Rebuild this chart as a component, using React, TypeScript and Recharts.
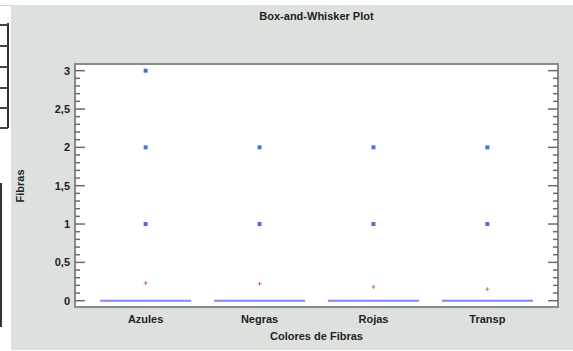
import React from "react";
import {
  ComposedChart,
  XAxis,
  YAxis,
  Scatter,
  ReferenceLine,
  ReferenceArea,
} from "recharts";

// Fibre colour groups
const categories = ["Azules", "Negras", "Rojas", "Transp"];
// Box statistics per group (all quartiles collapse to zero)
const medians = [0, 0, 0, 0];
const means = [0.23, 0.22, 0.18, 0.15];
// Outlying counts per group
const outliersAzules = [1, 2, 3];
const outliersNegras = [1, 2];
const outliersRojas = [1, 2];
const outliersTransp = [1, 2];
const outlierGroups = [outliersAzules, outliersNegras, outliersRojas, outliersTransp];

const yMajorTicks = [0, 0.5, 1, 1.5, 2, 2.5, 3];
const yTickLabels = ["0", "0,5", "1", "1,5", "2", "2,5", "3"];
const yMinorStep = 0.1;

const FONT = "'Liberation Sans Narrow', 'Arial Narrow', 'Liberation Sans', Arial, sans-serif";
const BOX_HALF = 0.4;
const X_DOMAIN: [number, number] = [0.38, 4.62];
const Y_DOMAIN: [number, number] = [-0.082, 3.087];

const allTicks: number[] = [];
for (let i = 0; i <= Math.round(3 / yMinorStep); i++) allTicks.push(+(i * yMinorStep).toFixed(2));

const isMajor = (v: number) => Math.abs(v * 2 - Math.round(v * 2)) < 1e-6;

const outlierData = outlierGroups.flatMap((vals, i) => vals.map((y) => ({ x: i + 1, y })));
const meanData = means.map((y, i) => ({ x: i + 1, y }));

const LeftTick = (props: any) => {
  const { x, y, payload } = props;
  const v = payload.value as number;
  const major = isMajor(v);
  const idx = yMajorTicks.findIndex((t) => Math.abs(t - v) < 1e-6);
  return (
    <g>
      <line x1={x} x2={x + (major ? 10 : 5)} y1={y} y2={y} stroke="#6b6b6b" strokeWidth={1.5} />
      {major && idx >= 0 && (
        <text x={x - 5} y={y} dy="0.36em" textAnchor="end" fontFamily={FONT} fontWeight="bold" fontSize={11} fill="#222">
          {yTickLabels[idx]}
        </text>
      )}
    </g>
  );
};

const RightTick = (props: any) => {
  const { x, y, payload } = props;
  const major = isMajor(payload.value as number);
  return <line x1={x} x2={x - (major ? 10 : 5)} y1={y} y2={y} stroke="#6b6b6b" strokeWidth={1.5} />;
};

const OutlierShape = (props: any) => {
  const { cx, cy } = props;
  return <rect x={cx - 2} y={cy - 2} width={4} height={4} fill="#4a6fd6" />;
};

const MeanShape = (props: any) => {
  const { cx, cy } = props;
  return (
    <g stroke="#c9784c" strokeWidth={1}>
      <line x1={cx - 2} x2={cx + 2} y1={cy} y2={cy} />
      <line x1={cx} x2={cx} y1={cy - 2} y2={cy + 2} />
    </g>
  );
};

const textStyle: React.CSSProperties = {
  position: "absolute",
  fontFamily: FONT,
  fontWeight: "bold",
  fontSize: 11,
  color: "#222",
  whiteSpace: "nowrap",
};

export default function App() {
  return (
    <div style={{ position: "absolute", left: 0, top: 0, width: 573, height: 351, background: "#fff", overflow: "hidden" }}>
      {/* side table edges */}
      <div style={{ position: "absolute", left: 0, top: 5, width: 11, height: 1, background: "#cfcfcf" }} />
      <div style={{ position: "absolute", left: 7, top: 23, width: 1.5, height: 105, background: "#333" }} />
      {[24, 45, 66, 87, 107, 127].map((t) => (
        <div key={t} style={{ position: "absolute", left: 0, top: t, width: 8, height: 1.5, background: "#444" }} />
      ))}
      <div style={{ position: "absolute", left: 0, top: 183, width: 1.5, height: 144, background: "#333" }} />

      {/* gray panel */}
      <div style={{ position: "absolute", left: 11, top: 5, width: 562, height: 345, background: "#dde1de" }} />

      <div style={{ position: "absolute", left: 0, top: 0 }}>
        <ComposedChart width={573} height={351} margin={{ top: 64, right: 0, bottom: 14, left: 0 }}>
          <XAxis
            dataKey="x"
            type="number"
            domain={X_DOMAIN}
            ticks={[1, 2, 3, 4]}
            allowDataOverflow
            tickFormatter={(v: number) => categories[v - 1] ?? ""}
            tickLine={false}
            axisLine={false}
            tickSize={0}
            tickMargin={8}
            height={30}
            interval={0}
            tick={{ fontFamily: FONT, fontWeight: "bold", fontSize: 11, fill: "#222" }}
          />
          <YAxis
            yAxisId="l"
            dataKey="y"
            type="number"
            domain={Y_DOMAIN}
            allowDataOverflow
            ticks={allTicks}
            interval={0}
            width={75}
            tickSize={0}
            tickMargin={0}
            tickLine={false}
            axisLine={false}
            tick={<LeftTick />}
          />
          <YAxis
            yAxisId="r"
            orientation="right"
            dataKey="y"
            type="number"
            domain={Y_DOMAIN}
            allowDataOverflow
            ticks={allTicks}
            interval={0}
            width={15}
            tickSize={0}
            tickMargin={0}
            tickLine={false}
            axisLine={false}
            tick={<RightTick />}
          />
          <ReferenceArea
            yAxisId="l"
            x1={X_DOMAIN[0]}
            x2={X_DOMAIN[1]}
            y1={Y_DOMAIN[0]}
            y2={Y_DOMAIN[1]}
            ifOverflow="visible"
            fill="#ffffff"
            fillOpacity={1}
            stroke="#8a8a8a"
            strokeWidth={2}
          />
          {medians.map((m, i) => (
            <ReferenceLine
              key={categories[i]}
              yAxisId="l"
              segment={[
                { x: i + 1 - BOX_HALF, y: m },
                { x: i + 1 + BOX_HALF, y: m },
              ]}
              stroke="#8585ff"
              strokeWidth={2}
              ifOverflow="visible"
            />
          ))}
          <Scatter yAxisId="l" data={outlierData} dataKey="y" shape={<OutlierShape />} isAnimationActive={false} />
          <Scatter yAxisId="l" data={meanData} dataKey="y" shape={<MeanShape />} isAnimationActive={false} />
        </ComposedChart>
      </div>

      <div style={{ ...textStyle, left: 0, width: 633, top: 10, textAlign: "center" }}>Box-and-Whisker Plot</div>
      <div style={{ ...textStyle, left: 0, width: 633, top: 330, textAlign: "center" }}>Colores de Fibras</div>
      <div
        style={{
          ...textStyle,
          left: 20,
          top: 186,
          transform: "translate(-50%, -50%) rotate(-90deg)",
        }}
      >
        Fibras
      </div>
    </div>
  );
}
